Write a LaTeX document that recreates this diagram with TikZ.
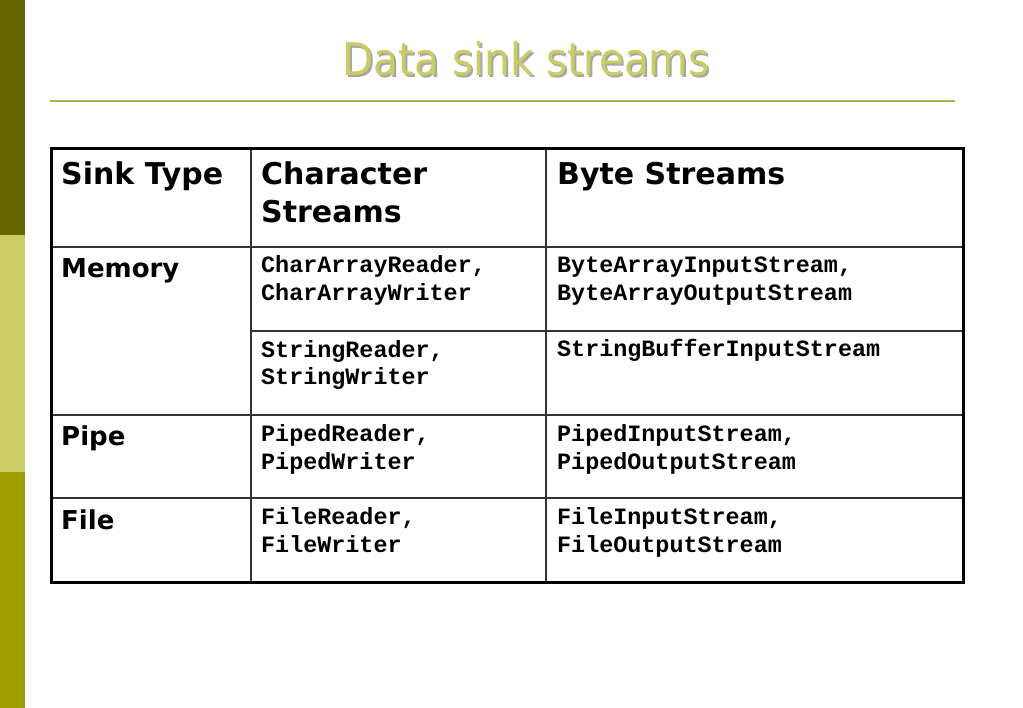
\documentclass[tikz,border=0pt]{standalone}
\usepackage{fontspec}
\newfontfamily\verdfont{DejaVu Sans}
\newfontfamily\codefont{Liberation Mono}
\usetikzlibrary{positioning}

\definecolor{bardark}{HTML}{666600}
\definecolor{barlight}{HTML}{CCCC66}
\definecolor{barmid}{HTML}{9E9E00}
\definecolor{titlecol}{HTML}{CCCC66}
\definecolor{rulecol}{HTML}{B0B044}

\begin{document}
\begin{tikzpicture}[x=1pt,y=-1pt]
        \tikzset{
          head/.style={
            anchor=base west,
            inner sep=0pt,
            align=left,
            font=\verdfont\bfseries\fontsize{30}{38}\selectfont,
          },
          kind/.style={
            anchor=base west,
            inner sep=0pt,
            font=\verdfont\bfseries\fontsize{26}{32}\selectfont,
          },
          cls/.style={
            anchor=base west,
            inner sep=0pt,
            align=left,
            font=\codefont\bfseries\fontsize{23.4}{28}\selectfont,
          },
          grid/.style={line width=1.5pt, draw=black!80},
        }
        \useasboundingbox (0,0) rectangle (1023,708);

        % side bar
        \fill[bardark] (0,0) rectangle (25,235);
        \fill[barlight] (0,235) rectangle (25,472);
        \fill[barmid] (0,472) rectangle (25,708);

        % title
        \node[anchor=base, inner sep=0pt, text=black!35,
          font=\verdfont\fontsize{45}{50}\selectfont] (titleshadow) at (528,78)
          {\scalebox{0.9}[1]{Data sink streams}};
        \node[anchor=base, inner sep=0pt, text=titlecol,
          font=\verdfont\fontsize{45}{50}\selectfont] (title) at (526,76)
          {\scalebox{0.9}[1]{Data sink streams}};
        \draw[rulecol, line width=2pt] (50,101) -- (955,101);

        % table grid
        \draw[grid] (51,247) -- (963,247);
        \draw[grid] (251,331) -- (963,331);
        \draw[grid] (51,415) -- (963,415);
        \draw[grid] (51,498) -- (963,498);
        \draw[grid] (251,149) -- (251,582);
        \draw[grid] (546,149) -- (546,582);
        \draw[line width=3pt] (51,149) rectangle (963,582);

        % header row (base = last line)
        \node[head] (hsink) at (61,185) {Sink Type};
        \node[head] (hchar) at (261,223) {Character\\Streams};
        \node[head] (hbyte) at (557,185) {Byte Streams};

        % sink types
        \node[kind] (memory) at (61,278) {Memory};
        \node[kind] (pipe) at (61,446) {Pipe};
        \node[kind] (file) at (61,529) {File};

        % classes
        \node[cls] (chararray) at (261,301) {CharArrayReader,\\CharArrayWriter};
        \node[cls] (bytearray) at (557,301) {ByteArrayInputStream,\\ByteArrayOutputStream};
        \node[cls] (string) at (261,385) {StringReader,\\StringWriter};
        \node[cls] (stringbuf) at (557,357) {StringBufferInputStream};
        \node[cls] (pipedchar) at (261,469) {PipedReader,\\PipedWriter};
        \node[cls] (pipedbyte) at (557,469) {PipedInputStream,\\PipedOutputStream};
        \node[cls] (filechar) at (261,552) {FileReader,\\FileWriter};
        \node[cls] (filebyte) at (557,552) {FileInputStream,\\FileOutputStream};
      \end{tikzpicture}
\end{document}
